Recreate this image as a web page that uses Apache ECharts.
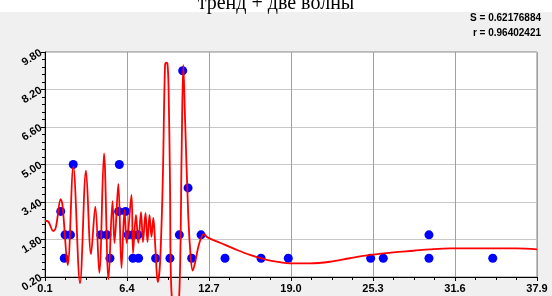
<!DOCTYPE html>
<html>
<head>
<meta charset="utf-8">
<script src="https://cdn.jsdelivr.net/npm/echarts@6/dist/echarts.min.js"></script>
<style>
    html, body { margin: 0; padding: 0; }
    #chart {
        width: 552px;
        height: 296px;
        background: linear-gradient(#ffffff 0, #ffffff 12px, #f0f0f0 12px);
    }
</style>
</head>
<body>
<div id="chart"></div>
<script>
// observed points (blue)
const pointX = [1.31, 1.58, 1.64, 2.06, 2.27, 4.38, 4.86, 5.09, 5.81, 5.76, 6.29, 6.48, 6.86, 7.25, 6.86, 7.29,
    8.6, 9.7, 10.42, 10.68, 11.09, 11.37, 12.09, 13.93, 16.7, 18.79, 25.12, 26.09, 29.6, 29.6, 34.5];
const pointY = [3, 1, 2, 2, 5, 2, 2, 1, 5, 3, 3, 2, 2, 2, 1, 1,
    1, 1, 2, 9, 4, 1, 2, 1, 1, 1, 1, 1, 2, 1, 1];

// fitted curve (red)
const curveX = [0.1, 0.354, 0.738, 0.945, 1.306, 1.445, 1.844, 2.274, 2.789, 3.25, 3.634, 3.965, 4.272, 4.633,
    4.979, 5.286, 5.44, 5.732, 5.977, 6.208, 6.377, 6.746, 6.861, 7.091, 7.268, 7.476, 7.629, 7.821, 7.975,
    8.129, 8.282, 8.42, 8.59, 8.759, 8.935, 9.143, 9.32, 9.42, 9.51, 9.588, 9.704, 9.78, 10.126, 10.43, 10.6,
    10.725, 10.856, 11.11, 11.294, 11.448, 11.62, 11.88, 12.14, 12.32, 12.52, 12.78, 13.545, 14.567, 15.85,
    17.13, 18.155, 18.92, 20.46, 22.0, 23.53, 25.12, 26.86, 28.4, 29.68, 31.22, 33.78, 36.34, 37.9];
const curveY = [2.60, 2.56, 2.16, 2.35, 3.52, 3.27, 0.71, 4.91, -0.06, 4.74, 1.18, 3.20, 0.38, 5.47,
    0.11, 3.44, 1.65, 4.17, 0.58, 3.06, 1.65, 3.70, 1.22, 2.85, 1.65, 2.97, 1.69, 2.93, 1.69,
    2.85, 1.91, 2.72, 1.35, -0.01, 0.75, 4.21, 9.20, 9.35, 9.29, 8.39, 4.21, 0.07, -2.06, -0.35, 5.62,
    9.25, 7.03, 2.76, 1.05, 0.47, 0.78, 1.49, 1.92, 2.03, 1.92, 1.84, 1.66, 1.42, 1.14,
    0.93, 0.83, 0.78, 0.78, 0.85, 1.00, 1.14, 1.25, 1.32, 1.38, 1.42, 1.42, 1.42, 1.38];

const xMin = 0.1, xMax = 37.9, xStep = 6.3;
const yMin = 0.2, yMax = 9.8, yStep = 1.6;
const statLines = ['S = 0.62176884', 'r = 0.96402421'];

// axes are shifted so that ticks start at 0 (interval counts from a multiple)
function zip(xs, ys) {
    let out = [];
    for (let i = 0; i < xs.length; i++) out.push([xs[i] - xMin, ys[i] - yMin]);
    return out;
}

let chart = echarts.init(document.getElementById('chart'), null, {renderer: 'canvas'});

let option = {
    animation: false,
    title: {
        text: 'тренд + две волны',
        left: 'center',
        top: -11,
        textStyle: {fontFamily: 'Liberation Serif', fontSize: 20, fontWeight: 'normal', color: '#000'}
    },
    graphic: statLines.map((t, i) => ({
        type: 'text',
        right: 11,
        top: 13 + i * 15,
        style: {text: t, font: 'bold 10px "Liberation Sans"', fill: '#000'}
    })),
    grid: {
        left: 45, right: 15, top: 52, bottom: 19,
        show: true, backgroundColor: '#ffffff', borderColor: '#808080', borderWidth: 1
    },
    xAxis: {
        type: 'value',
        min: 0, max: xMax - xMin, interval: xStep,
        axisLine: {show: true, lineStyle: {color: '#000', width: 1}},
        axisTick: {show: true, length: 4, lineStyle: {color: '#000'}},
        minorTick: {show: true, splitNumber: 4, length: 3, lineStyle: {color: '#000'}},
        splitLine: {show: true, lineStyle: {color: '#a0a0a0', width: 1}},
        axisLabel: {
            margin: 6,
            fontFamily: 'Liberation Sans', fontSize: 11, fontWeight: 'bold', color: '#000',
            formatter: v => (v + xMin).toFixed(1)
        }
    },
    yAxis: {
        type: 'value',
        min: 0, max: yMax - yMin, interval: yStep,
        axisLine: {show: true, lineStyle: {color: '#000', width: 1}},
        axisTick: {show: true, length: 4, lineStyle: {color: '#000'}},
        minorTick: {show: true, splitNumber: 5, length: 3, lineStyle: {color: '#000'}},
        splitLine: {show: true, lineStyle: {color: '#c8c8c8', width: 1}},
        axisLabel: {
            margin: 4, rotate: 32,
            fontFamily: 'Liberation Sans', fontSize: 11, fontWeight: 'bold', color: '#000',
            formatter: v => (v + yMin).toFixed(2)
        }
    },
    series: [
        {
            type: 'scatter',
            data: zip(pointX, pointY),
            symbol: 'circle',
            symbolSize: 9,
            itemStyle: {color: '#0000ff', opacity: 1},
            z: 2
        },
        {
            type: 'line',
            data: zip(curveX, curveY),
            showSymbol: false,
            smooth: 0.35,
            clip: false,
            lineStyle: {color: '#ff0000', width: 1.8},
            z: 3
        }
    ]
};

chart.setOption(option);
</script>
</body>
</html>
